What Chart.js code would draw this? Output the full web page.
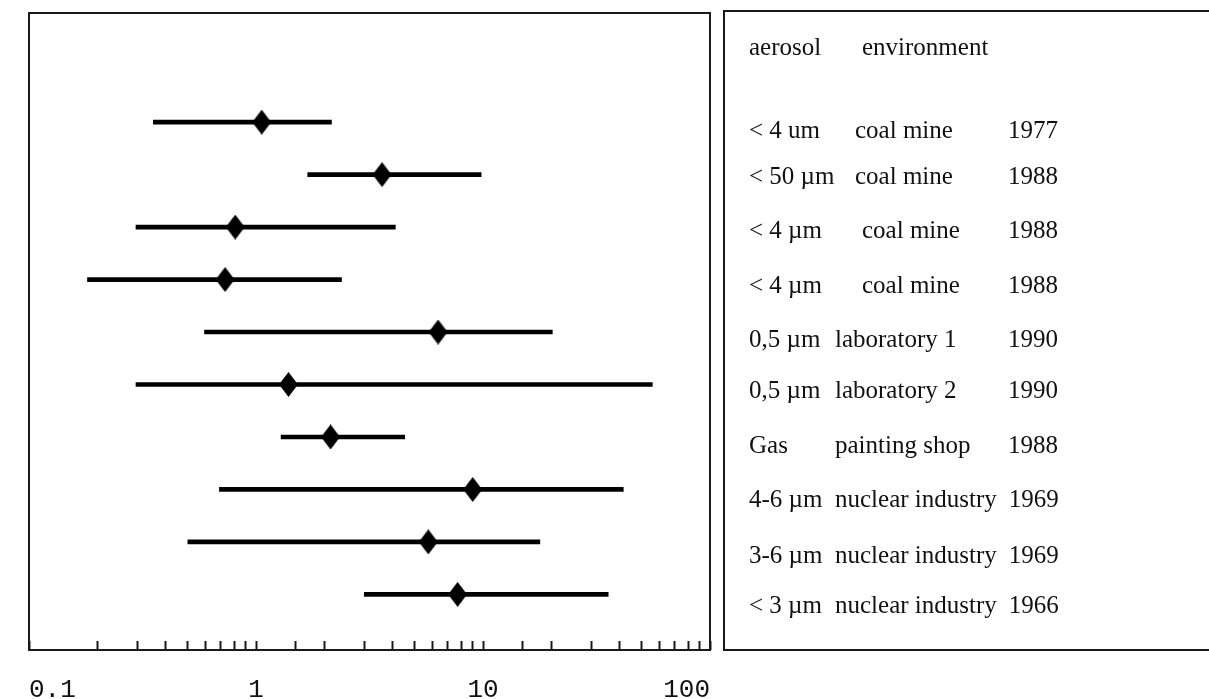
<!DOCTYPE html>
<html>
<head>
<meta charset="utf-8">
<script src="https://cdn.jsdelivr.net/npm/chart.js@4.4.1/dist/chart.umd.min.js"></script>
<style>
  html, body { margin: 0; padding: 0; background: #fff; overflow: hidden; }
  #wrap { position: relative; width: 1209px; height: 699px; }
</style>
</head>
<body>
<div id="wrap"><canvas id="c" width="1209" height="699"></canvas></div>
<script>
// ---------- data ----------
const headerLabels = ['aerosol', 'environment'];
const aerosolLabels = ['< 4 um', '< 50 µm', '< 4 µm', '< 4 µm', '0,5 µm', '0,5 µm', 'Gas', '4-6 µm', '3-6 µm', '< 3 µm'];
const environmentLabels = ['coal mine', 'coal mine', 'coal mine', 'coal mine', 'laboratory 1', 'laboratory 2', 'painting shop', 'nuclear industry', 'nuclear industry', 'nuclear industry'];
const yearLabels = ['1977', '1988', '1988', '1988', '1990', '1990', '1988', '1969', '1969', '1966'];
const lowValues  = [0.353, 1.69, 0.296, 0.181, 0.593, 0.296, 1.29, 0.690, 0.501, 3.00];
const meanValues = [1.06, 3.59, 0.810, 0.731, 6.34, 1.39, 2.13, 9.01, 5.74, 7.73];
const highValues = [2.15, 9.81, 4.11, 2.38, 20.2, 55.7, 4.52, 41.5, 17.8, 35.6];
const xTickLabels = ['0.1', '1', '10', '100'];

// ---------- layout (not data) ----------
const LEGEND_BOX = { left: 724, top: 11, right: 1330, bottom: 650 };
const LEGEND_COL1_X = 749;
const LEGEND_ENV_X = [855, 855, 862, 862, 835, 835, 835, 835, 835, 835];
const LEGEND_YEAR_MIN_X = 1008;
const LEGEND_HEADER_BASE = 55;
const LEGEND_HEADER_X = [749, 862];
const LEGEND_ROW_BASE = [138, 184, 238, 293, 347, 398, 453, 507, 563, 613];
const INK = '#111';

// diamond marker (taller than wide)
const diamond = document.createElement('canvas');
diamond.width = 19; diamond.height = 25;
(function () {
  const g = diamond.getContext('2d');
  g.fillStyle = '#000';
  g.beginPath();
  g.moveTo(9.5, 0); g.lineTo(19, 12.5); g.lineTo(9.5, 25); g.lineTo(0, 12.5);
  g.closePath(); g.fill();
})();

const rowPos = aerosolLabels.map((_, i) => i + 1);

const framePlugin = {
  id: 'frameAndLegend',
  afterDraw(chart) {
    const { ctx, chartArea: a } = chart;
    ctx.save();
    ctx.strokeStyle = '#1a1a1a';
    ctx.lineWidth = 2;
    ctx.strokeRect(a.left, a.top, a.right - a.left, a.bottom - a.top);
    ctx.strokeRect(LEGEND_BOX.left, LEGEND_BOX.top, LEGEND_BOX.right - LEGEND_BOX.left, LEGEND_BOX.bottom - LEGEND_BOX.top);

    ctx.fillStyle = INK;
    ctx.font = '25px "Liberation Serif", "Times New Roman", serif';
    ctx.textBaseline = 'alphabetic';
    ctx.textAlign = 'left';
    headerLabels.forEach((t, j) => ctx.fillText(t, LEGEND_HEADER_X[j], LEGEND_HEADER_BASE));
    aerosolLabels.forEach((t, i) => {
      const y = LEGEND_ROW_BASE[i];
      ctx.fillText(t, LEGEND_COL1_X, y);
      const ex = LEGEND_ENV_X[i];
      ctx.fillText(environmentLabels[i], ex, y);
      const w = ctx.measureText(environmentLabels[i]).width;
      ctx.fillText(yearLabels[i], Math.max(LEGEND_YEAR_MIN_X, ex + w + 12), y);
    });
    ctx.restore();
  }
};

new Chart(document.getElementById('c'), {
  type: 'bar',
  data: {
    datasets: [
      {
        type: 'scatter',
        data: meanValues.map((m, i) => ({ x: m, y: rowPos[i] })),
        pointStyle: diamond,
        pointRadius: 10,
        showLine: false,
        order: 0
      },
      {
        type: 'bar',
        indexAxis: 'y',
        data: lowValues.map((lo, i) => ({ x: [lo, highValues[i]], y: rowPos[i] })),
        backgroundColor: '#000',
        borderWidth: 0,
        barThickness: 4,
        order: 1
      }
    ]
  },
  options: {
    responsive: false,
    animation: false,
    events: [],
    layout: { padding: { left: 29, top: 13, right: 499, bottom: 0 } },
    plugins: { legend: { display: false }, tooltip: { enabled: false } },
    scales: {
      x: {
        type: 'logarithmic',
        position: 'bottom',
        offset: false,
        min: 0.1,
        max: 100,
        border: { display: false },
        grid: { display: true, offset: false, drawOnChartArea: false, drawTicks: true, tickLength: -9, tickWidth: 2, tickColor: '#1a1a1a' },
        ticks: {
          autoSkip: false,
          maxRotation: 0,
          minRotation: 0,
          align: 'inner',
          padding: 20,
          color: INK,
          font: { family: '"Liberation Mono", "DejaVu Sans Mono", monospace', size: 26, lineHeight: 2.23 },
          callback: (v) => {
            const l = Math.log10(v);
            if (Math.abs(l - Math.round(l)) < 1e-6) {
              return xTickLabels[Math.round(l) + 1];
            }
            return '';
          }
        },
        afterFit: (s) => { s.height = 49; }
      },
      y: {
        type: 'linear',
        offset: false,
        reverse: true,
        min: -1.08,
        max: 11.06,
        grid: { display: false, offset: false },
        display: false
      }
    }
  },
  plugins: [framePlugin]
});
</script>
</body>
</html>
